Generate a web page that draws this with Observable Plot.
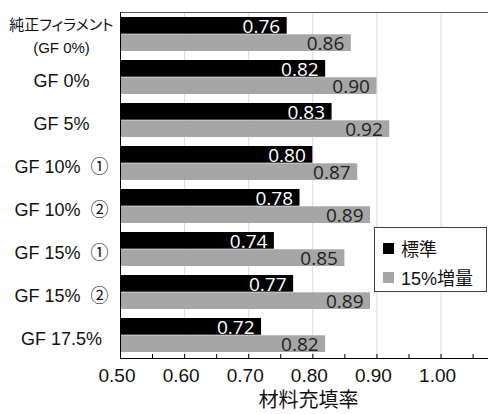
<!DOCTYPE html>
<html>
<head>
<meta charset="utf-8">
<script src="https://cdn.jsdelivr.net/npm/d3@7"></script>
<script src="https://cdn.jsdelivr.net/npm/@observablehq/plot@0.6"></script>
<style>
  body { margin: 0; background: #fff; }
  #chart { position: relative; width: 488px; height: 414px; overflow: hidden; }
  #chart svg text { font-feature-settings: "palt"; }
  .legend {
    position: absolute; left: 374px; top: 227px; width: 113px; height: 65px;
    border: 1px solid #404040; background: #fff; box-sizing: border-box;
    font-family: "Liberation Sans", "Noto Sans CJK JP", sans-serif; font-size: 18px; color: #111;
  }
  .legend .item { position: absolute; left: 8px; height: 20px; display: flex; align-items: center; white-space: nowrap; }
  .legend .sw { width: 11px; height: 11px; margin-right: 7px; flex: none; }
</style>
</head>
<body>
<div id="chart"></div>
<script>
// Categories (top to bottom) and the two series of filling ratios
const categories = [
  "純正フィラメント\n(GF 0%)",
  "GF 0%",
  "GF 5%",
  "GF 10%\u00a0 ①",
  "GF 10%\u00a0 ②",
  "GF 15%\u00a0 ①",
  "GF 15%\u00a0 ②",
  "GF 17.5%"
];
const standard  = [0.76, 0.82, 0.83, 0.80, 0.78, 0.74, 0.77, 0.72];
const increased = [0.86, 0.90, 0.92, 0.87, 0.89, 0.85, 0.89, 0.82];
const seriesNames  = ["標準", "15%増量"];
const seriesColors = ["#000000", "#a6a6a6"];

// Axis values
const xDomain    = [0.5, 1.074];
const majorTicks = [0.5, 0.6, 0.7, 0.8, 0.9, 1.0];
const tickLabels = ["0.50", "0.60", "0.70", "0.80", "0.90", "1.00"];
const minorTicks = [0.5, 0.55, 0.6, 0.65, 0.7, 0.75, 0.8, 0.85, 0.9, 0.95, 1.0, 1.05];
const gridLines  = [0.6, 0.7, 0.8, 0.9, 1.0];
const axisTitle  = "材料充填率";

const rows = categories.map((category, i) => ({
  category,
  standard: standard[i],
  increased: increased[i]
}));

const marginTop = 12, marginBottom = 56, marginLeft = 120, width = 488, height = 414;
// half of each category band: top half = standard, bottom half = increased
const step = (height - marginTop - marginBottom) / categories.length;
const half = step * 0.8 / 2;

const chart = Plot.plot({
  width, height, marginTop, marginBottom, marginLeft, marginRight: 0,
  style: {
    fontFamily: '"Liberation Sans", "Noto Sans CJK JP", sans-serif',
    fontSize: "18px",
    color: "#111",
    background: "#fff"
  },
  x: { domain: xDomain, axis: null },
  y: { domain: categories, paddingInner: 0.2, paddingOuter: 0.1, axis: null },
  marks: [
    Plot.ruleX(gridLines, { x: d => d, stroke: "#d9d9d9", strokeWidth: 1 }),
    Plot.frame({ anchor: "top", stroke: "#595959" }),
    Plot.barX(rows, { x1: xDomain[0], x2: "standard", y: "category", fill: seriesColors[0], insetBottom: half }),
    Plot.barX(rows, { x1: xDomain[0], x2: "increased", y: "category", fill: seriesColors[1], insetTop: half }),
    Plot.text(rows, {
      x: "standard", y: "category", text: d => d.standard.toFixed(2),
      textAnchor: "end", dx: -7, dy: -8, fill: "#fff",
      fontFamily: '"Open Sans", sans-serif', fontSize: 19
    }),
    Plot.text(rows, {
      x: "increased", y: "category", text: d => d.increased.toFixed(2),
      textAnchor: "end", dx: -7, dy: 9.5, fill: "#222",
      fontFamily: '"Open Sans", sans-serif', fontSize: 19
    }),
    // category labels
    Plot.text(categories.slice(0, 1), {
      y: d => d, frameAnchor: "left", textAnchor: "middle", dx: -59, dy: 0,
      fontSize: 15, lineHeight: 1.53, fill: "#111"
    }),
    Plot.text(categories.slice(1), {
      y: d => d, frameAnchor: "left", textAnchor: "middle", dx: -59, dy: 4,
      fontSize: 18, fill: "#111"
    }),
    // axes
    Plot.ruleX(minorTicks, { x: d => d, insetTop: height - marginTop - marginBottom - 4, stroke: "#000" }),
    Plot.ruleX([xDomain[0]], { x: d => d, stroke: "#000" }),
    Plot.frame({ anchor: "bottom", stroke: "#000" }),
    Plot.text(majorTicks, {
      x: d => d, text: (d, i) => tickLabels[i], frameAnchor: "bottom",
      dy: 23, dx: -3.5, fontSize: 19, fill: "#111"
    }),
    Plot.text([axisTitle], {
      frameAnchor: "bottom", dx: 4, dy: 48, fontSize: 20, fill: "#111",
      fontFamily: '"Noto Sans CJK JP", sans-serif'
    })
  ]
});

const root = document.getElementById("chart");
root.appendChild(chart);

// legend box
const legend = document.createElement("div");
legend.className = "legend";
seriesNames.forEach((name, i) => {
  const item = document.createElement("div");
  item.className = "item";
  item.style.top = (i === 0 ? 10 : 39) + "px";
  const sw = document.createElement("span");
  sw.className = "sw";
  sw.style.background = seriesColors[i];
  const label = document.createElement("span");
  label.textContent = name;
  item.append(sw, label);
  legend.appendChild(item);
});
root.appendChild(legend);
</script>
</body>
</html>
